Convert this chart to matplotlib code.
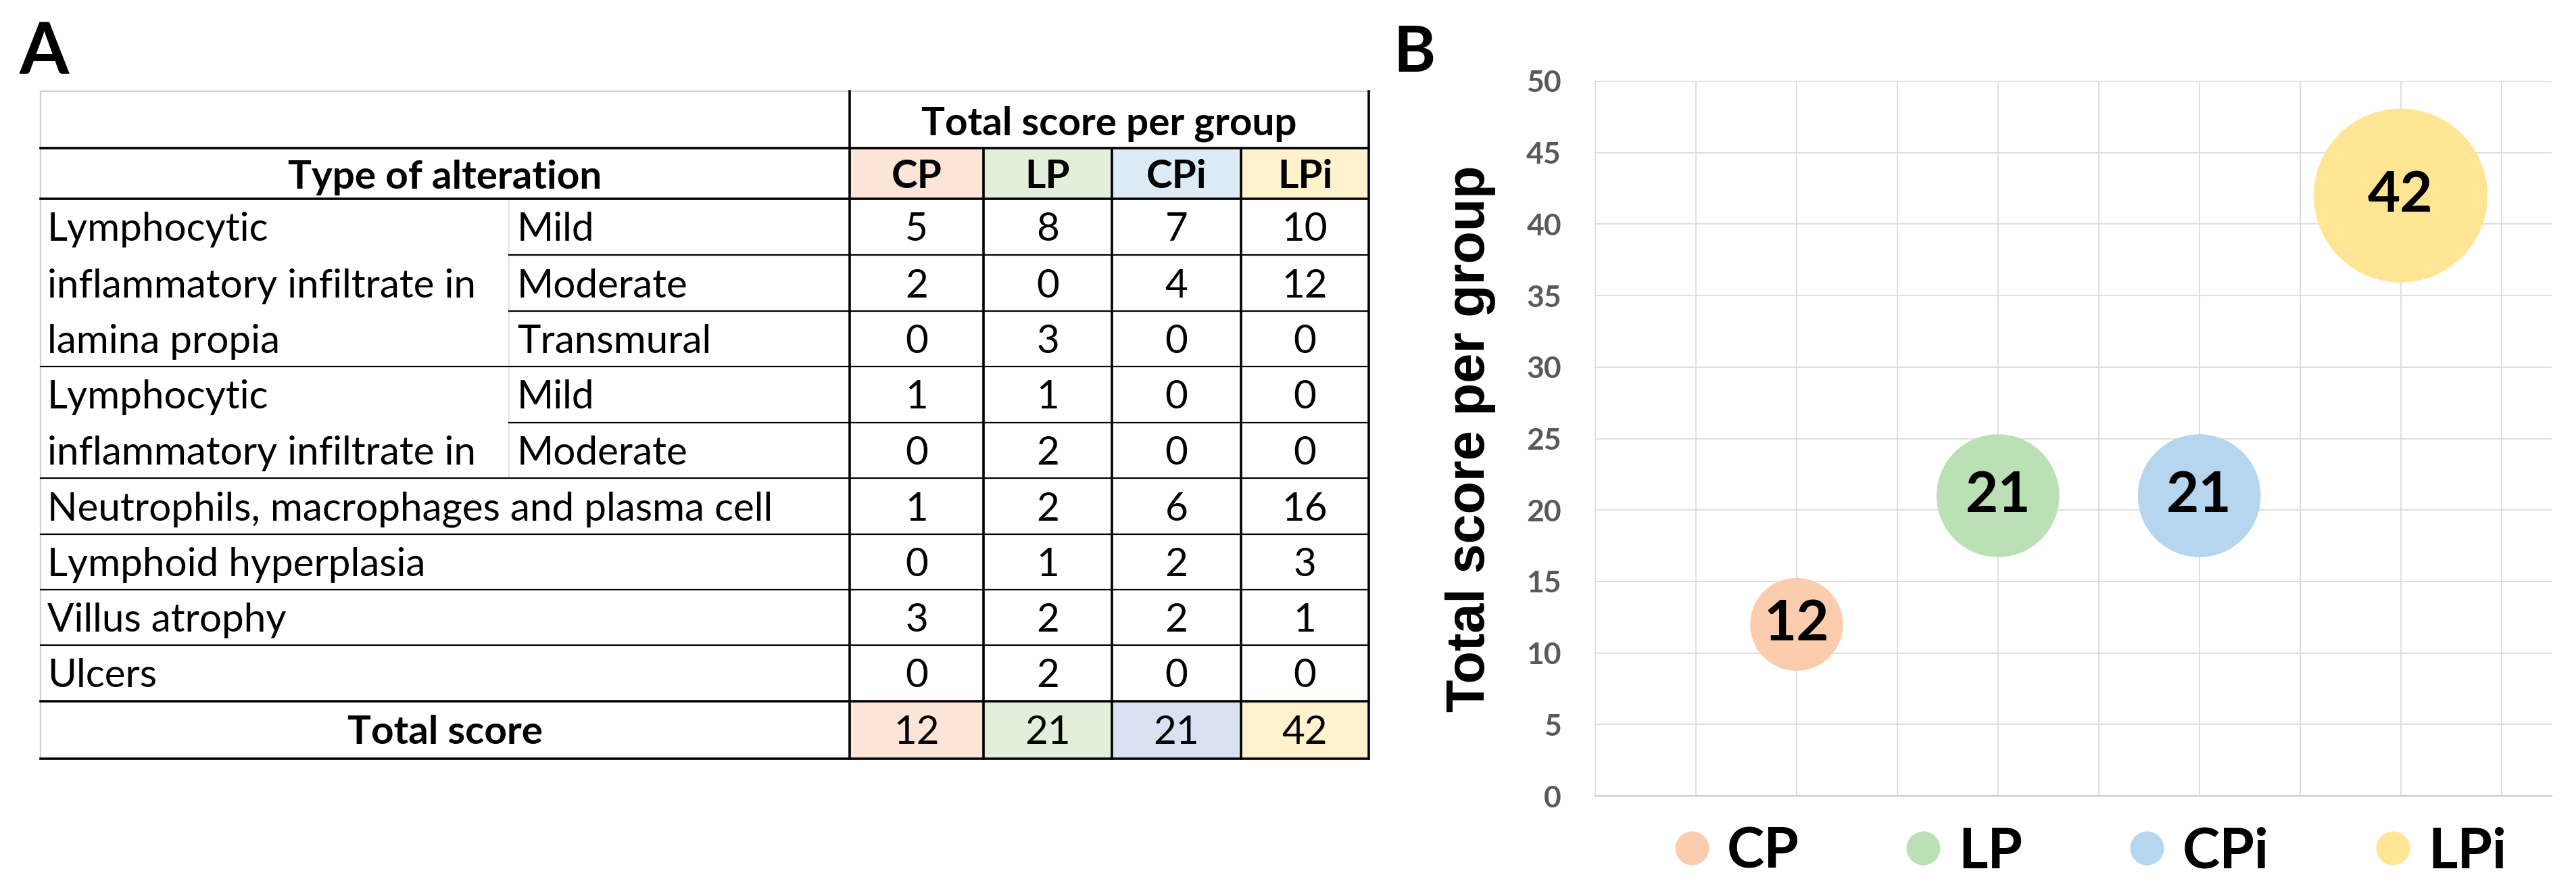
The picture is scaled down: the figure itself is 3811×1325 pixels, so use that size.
import matplotlib
matplotlib.use("Agg")
import matplotlib.pyplot as plt
from matplotlib.lines import Line2D
import numpy as np

# ---------------- data ----------------
groups = ["CP", "LP", "CPi", "LPi"]
main_label_1 = ["Lymphocytic", "inflammatory infiltrate in", "lamina propia"]
main_label_2 = ["Lymphocytic", "inflammatory infiltrate in"]
sub_labels = ["Mild", "Moderate", "Transmural", "Mild", "Moderate"]
single_labels = ["Neutrophils, macrophages and plasma cell", "Lymphoid hyperplasia",
                 "Villus atrophy", "Ulcers"]
scores_CP = [5, 2, 0, 1, 0, 1, 0, 3, 0]
scores_LP = [8, 0, 3, 1, 2, 2, 1, 2, 2]
scores_CPi = [7, 4, 0, 0, 0, 6, 2, 2, 0]
scores_LPi = [10, 12, 0, 0, 0, 16, 3, 1, 0]
total_score = [12, 21, 21, 42]
bubble_x = [1, 2, 3, 4]
y_ticks = [0, 5, 10, 15, 20, 25, 30, 35, 40, 45, 50]

header_colors = ["#FCE4D6", "#E2EFDA", "#DDEBF7", "#FFF2CC"]
total_colors = ["#FCE4D6", "#E2EFDA", "#D9E1F2", "#FFF2CC"]
bubble_colors = ["#FBCDAE", "#BCE0B5", "#B5D6EE", "#FFE594"]

# ---------------- figure ----------------
W, H = 3812, 1325
fig = plt.figure(figsize=(W / 100, H / 100), dpi=100)
FONT = ["Lato", "DejaVu Sans"]
plt.rcParams["font.family"] = FONT

# overlay axes in pixel coordinates for the table
tab = fig.add_axes([0, 0, 1, 1])
tab.set_xlim(0, W)
tab.set_ylim(H, 0)
tab.axis("off")

L, C1, C2, R = 60, 753, 1257, 2025
col_edges = [1257, 1455, 1645, 1836, 2025]
col_centers = [(col_edges[i] + col_edges[i + 1]) / 2 for i in range(4)]
top, h1, h2 = 135, 219, 294
row_edges = [294, 377, 460, 542, 625, 707, 790, 872, 954, 1037]
tot_bot = 1122

thick = 2.6
thin = 1.6
grey = "#D0D0D0"

# fills
for i in range(4):
    tab.fill_between([col_edges[i], col_edges[i + 1]], h1, h2, color=header_colors[i], lw=0)
    tab.fill_between([col_edges[i], col_edges[i + 1]], row_edges[-1], tot_bot,
                     color=total_colors[i], lw=0)

# grey outer gridlines
tab.plot([L, R + 2], [top, top], color=grey, lw=1.6)
tab.plot([L, L], [top, tot_bot], color=grey, lw=1.6)
tab.plot([C1, C1], [h2, row_edges[5]], color="#E0E0E0", lw=1.4)

# horizontal lines
for y in [h1, h2, row_edges[-1], tot_bot]:
    tab.plot([L, R], [y, y], color="black", lw=thick, solid_capstyle="projecting")
for k, y in enumerate(row_edges[1:-1], start=1):
    x0 = C1 if k in (1, 2, 4) else L
    tab.plot([x0, R], [y, y], color="black", lw=thin)

# vertical lines
tab.plot([C2, C2], [top, tot_bot], color="black", lw=thick)
tab.plot([R, R], [top, tot_bot], color="black", lw=thick)
for x in col_edges[1:-1]:
    tab.plot([x, x], [h1, tot_bot], color="black", lw=thick)

TS = 42
# header texts
tab.text((C2 + R) / 2, 200, "Total score per group", ha="center", va="baseline",
         fontsize=TS, fontweight="bold")
tab.text((L + C2) / 2, 279, "Type of alteration", ha="center", va="baseline",
         fontsize=TS, fontweight="bold")
for i, g in enumerate(groups):
    tab.text(col_centers[i], 278, g, ha="center", va="baseline", fontsize=TS,
             fontweight="bold")

row_centers = [(row_edges[i] + row_edges[i + 1]) / 2 for i in range(len(row_edges) - 1)]
off = 21
for i, t in enumerate(main_label_1):
    tab.text(70, row_centers[i] + off, t, ha="left", va="baseline", fontsize=TS)
for i, t in enumerate(main_label_2):
    tab.text(70, row_centers[3 + i] + off, t, ha="left", va="baseline", fontsize=TS)
for i, t in enumerate(sub_labels):
    tab.text(765, row_centers[i] + off, t, ha="left", va="baseline", fontsize=TS)
for i, t in enumerate(single_labels):
    tab.text(70, row_centers[5 + i] + off, t, ha="left", va="baseline", fontsize=TS)

all_scores = [scores_CP, scores_LP, scores_CPi, scores_LPi]
for j, col in enumerate(all_scores):
    for i, v in enumerate(col):
        tab.text(col_centers[j], row_centers[i] + off, str(v), ha="center",
                 va="baseline", fontsize=TS)
    tab.text(col_centers[j], (row_edges[-1] + tot_bot) / 2 + off, str(total_score[j]),
             ha="center", va="baseline", fontsize=TS)
tab.text((L + C2) / 2, (row_edges[-1] + tot_bot) / 2 + off, "Total score", ha="center",
         va="baseline", fontsize=TS, fontweight="bold")

# panel labels
tab.text(29, 109, "A", ha="left", va="baseline", fontsize=76, fontweight="bold")
tab.text(2061, 106, "B", ha="left", va="baseline", fontsize=68, fontweight="bold")

# ---------------- bubble chart ----------------
ax_l, ax_r, ax_t, ax_b = 2360, 3775, 120, 1177
ax = fig.add_axes([ax_l / W, 1 - ax_b / H, (ax_r - ax_l) / W, (ax_b - ax_t) / H])
ax.set_xlim(0, 4.75)
ax.set_ylim(0, 50)
ax.set_yticks(y_ticks)
ax.set_xticks(np.arange(0.5, 4.6, 0.5))
ax.grid(True, color="#D9D9D9", lw=1.2, zorder=0)
ax.set_axisbelow(True)
for s in ["top", "right"]:
    ax.spines[s].set_visible(False)
ax.spines["left"].set_color("#D9D9D9")
ax.spines["left"].set_linewidth(1.2)
ax.spines["bottom"].set_color("#C8C8C8")
ax.spines["bottom"].set_linewidth(1.4)
ax.tick_params(axis="x", length=0, labelbottom=False)
ax.tick_params(axis="y", length=0, pad=36, labelsize=32, labelcolor="#595959")
for lab in ax.get_yticklabels():
    lab.set_fontweight("bold")

k = 815.0
sizes = [k * v for v in total_score]
ax.scatter(bubble_x, total_score, s=sizes, c=bubble_colors, edgecolors="none", zorder=3)
for x, y in zip(bubble_x, total_score):
    ax.text(x, y, str(y), ha="center", va="center", fontsize=60, fontweight="bold",
            zorder=4)

ax.set_ylabel("Total score per group", family=["Liberation Sans", "DejaVu Sans"],
              fontsize=57, fontweight="bold")
ax.yaxis.set_label_coords(-0.104, 0.5)

handles = [Line2D([], [], marker="o", ls="none", markersize=36, markerfacecolor=c,
                  markeredgecolor="none") for c in bubble_colors]
leg = fig.legend(handles, groups, ncol=4, loc="center",
                 bbox_to_anchor=(3093 / W, 1 - 1260 / H), frameon=False,
                 prop={"size": 60, "weight": "bold"}, handlelength=0.6,
                 handletextpad=0.33, columnspacing=1.9)

fig.savefig("out.png", dpi=100, facecolor="white")
